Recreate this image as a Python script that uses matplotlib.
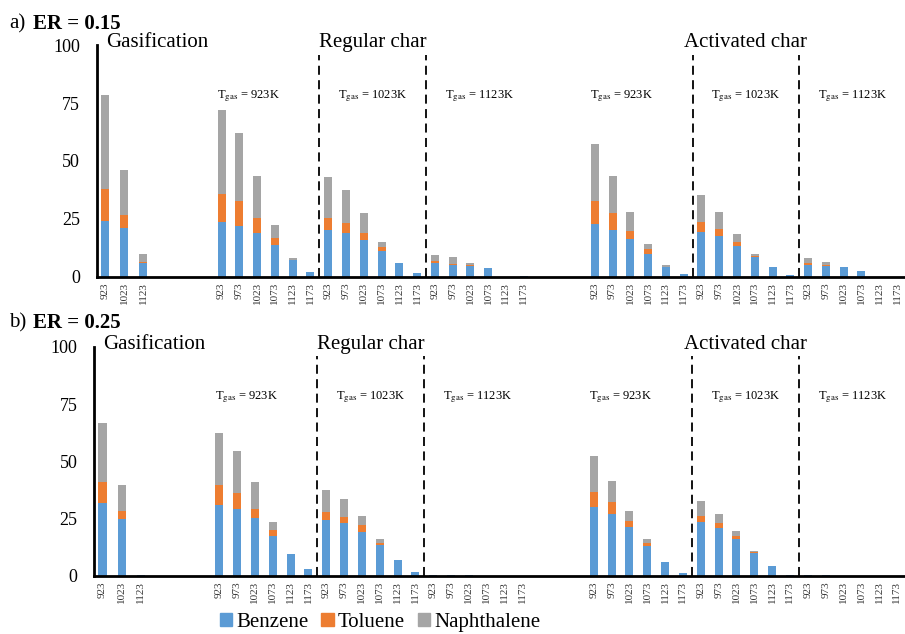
import numpy as np
import matplotlib
matplotlib.use("Agg")
import matplotlib.pyplot as plt
from matplotlib.patches import Patch

plt.rcParams['font.family'] = ['Liberation Serif', 'DejaVu Serif']
plt.rcParams['mathtext.fontset'] = 'stix'

# ----------- Data -----------
gas_temps = ["923", "1023", "1123"]
char_temps = ["923", "973", "1023", "1073", "1123", "1173"]
tgas_labels = ["923K", "1023K", "1123K"]
series_names = ["Benzene", "Toluene", "Naphthalene"]
colors = ["#5B9BD5", "#ED7D31", "#A5A5A5"]

# ER = 0.15
a_gas_benz = [24.2, 20.9, 5.8]
a_gas_tol = [13.8, 5.6, 0.5]
a_gas_nap = [40.7, 19.7, 3.6]

a_reg_benz = [23.5, 21.7, 18.8, 13.5, 7.1, 1.9,
              20.0, 18.8, 15.9, 11.3, 5.8, 1.7,
              5.8, 5.1, 4.8, 3.6, 0.0, 0.3]
a_reg_tol = [12.4, 11.2, 6.6, 3.2, 0.3, 0.0,
             5.4, 4.4, 2.9, 1.7, 0.0, 0.0,
             0.8, 0.5, 0.3, 0.0, 0.0, 0.0]
a_reg_nap = [36.3, 29.0, 17.9, 5.5, 0.6, 0.0,
             17.5, 14.2, 8.7, 2.2, 0.0, 0.0,
             2.8, 2.7, 1.0, 0.0, 0.0, 0.0]

a_act_benz = [22.8, 20.3, 16.4, 9.9, 4.3, 1.2,
              19.3, 17.4, 13.3, 8.7, 4.1, 0.6,
              5.1, 4.8, 4.1, 2.5, 0.0, 0.0]
a_act_tol = [10.1, 7.1, 3.5, 2.0, 0.0, 0.0,
             4.2, 3.2, 1.5, 0.4, 0.0, 0.0,
             0.6, 0.3, 0.0, 0.0, 0.0, 0.0]
a_act_nap = [24.3, 15.9, 7.9, 2.3, 0.8, 0.0,
             12.0, 7.2, 3.8, 0.8, 0.0, 0.0,
             2.3, 1.1, 0.2, 0.0, 0.0, 0.0]

# ER = 0.25
b_gas_benz = [31.6, 24.7, 0.3]
b_gas_tol = [9.4, 3.5, 0.0]
b_gas_nap = [25.5, 11.2, 0.0]

b_reg_benz = [30.9, 29.1, 25.0, 17.5, 9.5, 2.8,
              24.3, 22.9, 19.2, 13.4, 6.8, 1.7,
              0.3, 0.3, 0.2, 0.0, 0.0, 0.0]
b_reg_tol = [8.7, 7.1, 4.1, 2.4, 0.0, 0.0,
             3.6, 2.6, 2.9, 0.7, 0.0, 0.0,
             0.0, 0.0, 0.0, 0.0, 0.0, 0.0]
b_reg_nap = [22.8, 18.4, 11.7, 3.4, 0.0, 0.0,
             9.5, 8.0, 4.0, 1.8, 0.0, 0.0,
             0.0, 0.0, 0.0, 0.0, 0.0, 0.0]

b_act_benz = [30.1, 26.9, 21.1, 13.0, 5.8, 1.3,
              23.3, 20.7, 15.9, 9.8, 4.2, 0.3,
              0.2, 0.2, 0.0, 0.0, 0.0, 0.0]
b_act_tol = [6.6, 5.1, 2.8, 1.1, 0.0, 0.0,
             2.9, 2.2, 1.4, 0.4, 0.0, 0.0,
             0.0, 0.0, 0.0, 0.0, 0.0, 0.0]
b_act_nap = [15.6, 9.5, 4.5, 1.8, 0.0, 0.0,
             6.6, 4.0, 2.2, 0.7, 0.0, 0.0,
             0.0, 0.0, 0.0, 0.0, 0.0, 0.0]

# ----------- Layout -----------
GAS_STEP = 1.07
REG_START = 6.55
ACT_START = REG_START + 21
gas_x = np.arange(3) * GAS_STEP
reg_x = REG_START + np.arange(18)
act_x = ACT_START + np.arange(18)
x_all = np.concatenate([gas_x, reg_x, act_x])
xlabels = gas_temps + char_temps * 6
W = 0.45

fig = plt.figure(figsize=(9.05, 6.34), dpi=100)
ax_a = fig.add_axes([0.107, 0.5636, 0.893, 0.365])
ax_b = fig.add_axes([0.104, 0.092, 0.896, 0.361])


def draw_panel(ax, gas, reg, act):
    vals = [np.concatenate([g, r, a]) for g, r, a in zip(gas, reg, act)]
    bottom = np.zeros(len(x_all))
    for v, c in zip(vals, colors):
        ax.bar(x_all, v, W, bottom=bottom, color=c, linewidth=0, zorder=2)
        bottom += v

    ax.set_ylim(0, 100)
    ax.set_xlim(-0.47, 45.0)
    ax.set_yticks([0, 25, 50, 75, 100])
    ax.set_xticks(x_all)
    ax.set_xticklabels(xlabels, rotation=90, fontsize=8, color="#333333")
    ax.tick_params(axis="x", length=0, pad=4)
    ax.tick_params(axis="y", length=0, pad=12, labelsize=13)
    for s in ["top", "right"]:
        ax.spines[s].set_visible(False)
    ax.spines["left"].set_linewidth(2)
    ax.spines["bottom"].set_linewidth(2)

    # dashed separators and labels
    for start in [REG_START, ACT_START]:
        for off in [5.5, 11.5]:
            ax.plot([start + off, start + off], [0, 96], color="black",
                    lw=1.3, ls=(0, (5, 3)), zorder=3, clip_on=False)
        for i, t in enumerate(tgas_labels):
            cx = start + 6 * i + 2.5 - (1 if i == 0 else 0)
            ax.text(cx, 78, r"T$_{\mathrm{gas}}$ = " + t, ha="center",
                    va="center", fontsize=9)
    ax.text(0.05, 101, "Gasification", fontsize=15, ha="left", va="center")
    ax.text(REG_START + 8.5, 101, "Regular char", fontsize=15,
            ha="center", va="center")
    ax.text(ACT_START + 8.5, 101, "Activated char", fontsize=15,
            ha="center", va="center")


draw_panel(ax_a, [a_gas_benz, a_gas_tol, a_gas_nap],
           [a_reg_benz, a_reg_tol, a_reg_nap],
           [a_act_benz, a_act_tol, a_act_nap])
draw_panel(ax_b, [b_gas_benz, b_gas_tol, b_gas_nap],
           [b_reg_benz, b_reg_tol, b_reg_nap],
           [b_act_benz, b_act_tol, b_act_nap])

# panel titles
fig.text(0.010, 0.962, "a)", fontsize=15, va="center")
fig.text(0.036, 0.962, "ER = 0.15", fontsize=15, fontweight="bold", va="center")
fig.text(0.010, 0.491, "b)", fontsize=15, va="center")
fig.text(0.036, 0.491, "ER = 0.25", fontsize=15, fontweight="bold", va="center")

handles = [Patch(color=c, label=n) for c, n in zip(colors, series_names)]
fig.legend(handles=handles, loc="center", bbox_to_anchor=(0.42, 0.018),
           ncol=3, frameon=False, fontsize=15, handlelength=0.6,
           handleheight=0.6, handletextpad=0.2, columnspacing=0.6)

fig.savefig("out.png", dpi=100)
